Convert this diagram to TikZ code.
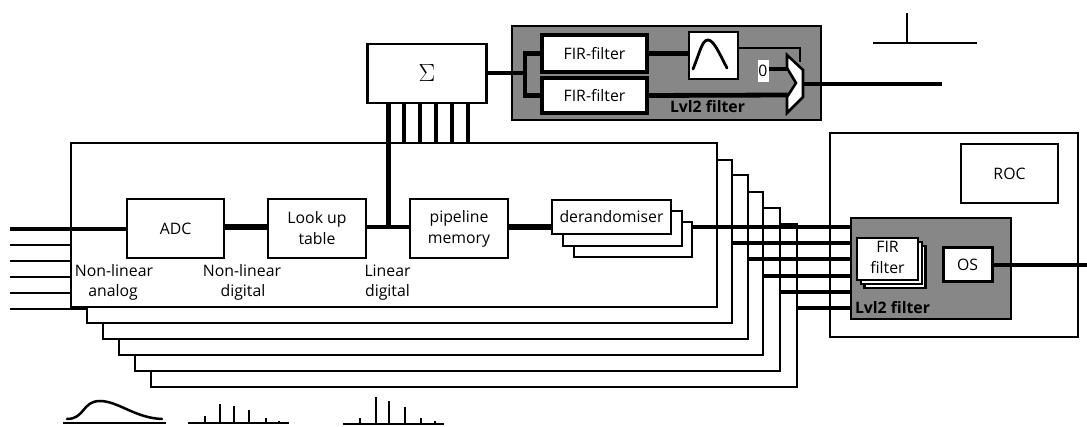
\documentclass[tikz,border=0pt]{standalone}
\usepackage{fontspec}
\setmainfont{Open Sans}
\newcommand{\lab}{\fontsize{15.8}{21}\selectfont}
\tikzset{
  x=1pt,y=-1pt,
  wbox/.style={draw=black,fill=white,line width=2.6pt,inner sep=0pt,outer sep=0pt,align=center,font=\lab,text=black},
  frame/.style={draw=black,fill=white,line width=2.3pt,inner sep=0pt,outer sep=0pt},
  graybox/.style={draw=black,fill=black!47,line width=2.3pt,inner sep=0pt,outer sep=0pt},
  thickline/.style={line width=4.8pt,draw=black},
  midline/.style={line width=3.2pt,draw=black},
  thinline/.style={line width=2.5pt,draw=black},
  plain/.style={inner sep=0pt,outer sep=0pt,align=center,font=\lab,text=black},
  graytext/.style={inner sep=0pt,outer sep=0pt,font=\lab\bfseries,text=black},
}
\begin{document}
\begin{tikzpicture}
\useasboundingbox (0,0) rectangle (1087,427);
% stacked channel boards, back to front
\node[frame,minimum width=646pt,minimum height=163pt] (b6) at (474,305.5) {};
\node[frame,minimum width=645pt,minimum height=163pt] (b5) at (457.5,289.5) {};
\node[frame,minimum width=644pt,minimum height=163pt] (b4) at (441,273.5) {};
\node[frame,minimum width=645pt,minimum height=164pt] (b3) at (425.5,257) {};
\node[frame,minimum width=645pt,minimum height=163pt] (b2) at (409.5,241.5) {};
\node[frame,minimum width=646pt,minimum height=164pt] (main) at (394,225) {};
% readout crate
\node[frame,minimum width=248pt,minimum height=204pt] (crate) at (954,235) {};
\node[wbox,minimum width=97pt,minimum height=59pt] (roc) at (1009.5,173.5) {ROC};
\node[graybox,minimum width=160pt,minimum height=101pt] (lvlb) at (931,268.5) {};
% board contents
\node[wbox,minimum width=97pt,minimum height=59pt] (adc) at (175.5,228.5) {ADC};
\node[wbox,minimum width=98pt,minimum height=59pt] (lut) at (317,228.5) {Look up\\table};
\node[wbox,minimum width=98pt,minimum height=59pt] (pipe) at (459,228.5) {pipeline\\memory};
\node[wbox,minimum width=118pt,minimum height=35pt] (d3) at (633,239.5) {};
\node[wbox,minimum width=119pt,minimum height=35pt] (d2) at (622.5,228.5) {};
\node[wbox,minimum width=119pt,minimum height=34pt] (d1) at (611.5,217) {derandomiser};
\node[plain] (l1) at (114,271) {Non-linear};
\node[plain] (l2) at (113,292) {analog};
\node[plain] (l3) at (242,271) {Non-linear};
\node[plain] (l4) at (243,292) {digital};
\node[plain] (l5) at (387.5,271) {Linear};
\node[plain] (l6) at (387.5,292) {digital};
% sum and upper level-2 filter
\node[wbox,minimum width=119pt,minimum height=59pt] (sum) at (427,73.5) {\fontsize{30}{30}\selectfont$\Sigma$};
\node[graybox,minimum width=309pt,minimum height=94pt] (lvla) at (666.5,73) {};
\node[wbox,minimum width=105pt,minimum height=37pt,line width=3.2pt] (fa) at (594.5,53.5) {FIR-filter};
\node[wbox,minimum width=105pt,minimum height=35pt,line width=3.2pt] (fb) at (594.5,95.5) {FIR-filter};
\node[wbox,minimum width=49pt,minimum height=47pt,line width=2.6pt] (bell) at (713.5,55.5) {};
\draw[line width=2.8pt,line cap=round] (693,69) .. controls (700,52) and (702,40) .. (708,40) .. controls (714,40) and (720,55) .. (727,68);
\node[graytext,anchor=west] (ta) at (670,107) {Lvl2 filter};
\node[draw=none,fill=white,inner sep=0pt,outer sep=0pt,minimum width=11pt,minimum height=22pt,font=\lab] (zero) at (763,71) {0};
% multiplexer
\coordinate (mt) at (787,55);
\coordinate (mb) at (787,113);
\coordinate (min0) at (788,69);
\coordinate (minb) at (790,95);
\coordinate (mout) at (803,84);
\coordinate (bcorner) at (800,48);
\coordinate (bend) at (800,62);
\coordinate (bstart) at (738,48);
\coordinate (oend) at (942,84);
\draw[thinline] (bstart) -- (bcorner) -- (bend);
\draw[midline] (zero.east |- min0) -- (min0);
\draw[thickline] (fb.east) -- (minb);
\filldraw[fill=white,draw=black,line width=2.6pt,line join=miter] (mt) -- (803,70) -- (803,97) -- (mb) -- (787,97) -- (796,83) -- (787,68) -- cycle;
\draw[thickline] (mout) -- (oend);
\draw[thickline] (fa.east) -- (bell.west |- fa.east);
\coordinate (split) at (525,73);
\draw[thickline] (sum.east |- split) -- (split);
\draw[thickline] (fa.west) -| (split) |- (fb.west);
% sum bus
\foreach \n/\px in {1/404,2/420,3/436,4/452,5/468}{
  \coordinate (t\n) at (\px,143);
  \draw[line width=4pt] (sum.south -| t\n) -- (t\n);
}
\coordinate (busb) at (388,227);
\draw[line width=5pt] (sum.south -| busb) -- (busb);
% inputs
\foreach \n/\py in {1/245,2/261,3/277,4/293}{
  \coordinate (ia\n) at (10,\py);
  \coordinate (ib\n) at (71,\py);
  \draw[thinline] (ia\n) -- (ib\n);
}
\coordinate (i0) at (10,229);
\draw[midline] (i0) -- (adc.west |- i0);
\coordinate (i5) at (10,309);
\coordinate (i5e) at (87,309);
\draw[thinline] (i5) -- (i5e);
% chain
\draw[line width=5.5pt] (adc.east |- busb) -- (lut.west |- busb);
\draw[thickline] (lut.east |- busb) -- (pipe.west |- busb);
\draw[line width=5.5pt] (pipe.east |- busb) -- (d1.west |- busb);
% outputs
\coordinate (o1) at (692,227);
\draw[thickline] (o1) -- (lvlb.west |- o1);
\foreach \n/\py/\nm in {3/243/b2,4/259/b3,5/276/b4,6/292/b5,7/308/b6}{
  \coordinate (o\n) at (\nm.east |- 0,\py);
  \draw[thickline] (o\n) -- (lvlb.west |- o\n);
}
% right level-2 filter
\node[wbox,minimum width=61pt,minimum height=42pt] (g3) at (895,267) {};
\node[wbox,minimum width=61pt,minimum height=42pt] (g2) at (891.5,263) {};
\node[wbox,minimum width=61pt,minimum height=42pt] (g1) at (887.5,259) {};
\node[plain] (g1a) at (887.5,247) {FIR};
\node[plain] (g1b) at (887.5,268) {filter};
\node[wbox,minimum width=49pt,minimum height=34pt,line width=3pt] (os) at (967.5,265) {OS};
\node[graytext,anchor=west] (tb) at (855,308) {Lvl2 filter};
\coordinate (rout) at (1087,265);
\draw[thickline] (os.east) -- (rout);
% impulse sketch
\coordinate (ia) at (873,43);
\coordinate (ib) at (977,43);
\coordinate (ic) at (907,43);
\coordinate (id) at (907,13);
\draw[thinline] (ia) -- (ib);
\draw[thinline] (ic) -- (id);
% pulse shapes
\draw[thinline] (63,423) -- (166,423);
\draw[thinline,line cap=round] (67,419) .. controls (85,419) and (82,401) .. (100,401) .. controls (118,401) and (135,418) .. (162,419);
\draw[thinline] (188,423) -- (289,423);
\foreach \px/\py in {205/416,220/404,234/406,249/410,266/418,279/421}{
  \draw[line width=2.5pt] (\px,423) -- (\px,\py);
}
\draw[thinline] (343,424) -- (444,424);
\foreach \px/\py in {360/418,376/397,389/401,405/407,421/418,435/421}{
  \draw[line width=2.5pt] (\px,424) -- (\px,\py);
}
\end{tikzpicture}
\end{document}
